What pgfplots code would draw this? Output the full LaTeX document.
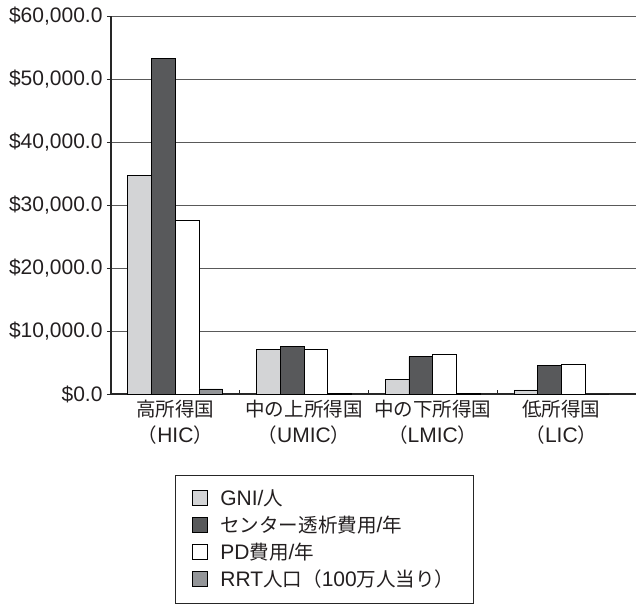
\documentclass[border=0pt]{standalone}
\usepackage{fontspec}
\setmainfont{Liberation Sans}
\newfontfamily\cjk[Scale=0.93]{Noto Sans CJK JP}
\usepackage{pgfplots}
\pgfplotsset{compat=1.18}
\definecolor{cGNI}{HTML}{D3D4D6}
\definecolor{cHD}{HTML}{58595B}
\definecolor{cRRT}{HTML}{939598}
\definecolor{txt}{HTML}{231F20}
\pgfplotsset{sq/.style={legend image code/.code={\draw[##1,line width=0.9bp] (0bp,0bp) rectangle (15bp,15bp); \path (25bp,7bp);}}}
\begin{document}
\begin{tikzpicture}
\begin{axis}[
  scale only axis, width=525bp, height=378bp,
  xmin=0.5, xmax=4.58, ymin=0, ymax=60000,
  ybar=0pt, bar width=23.7bp,
  axis lines*=left,
  axis line style={line width=1.1bp, color=black!85},
  ymajorgrids, grid style={line width=1bp, color=black!65},
  scaled y ticks=false,
  ytick={0,10000,20000,30000,40000,50000,60000},
  yticklabels={{\$0.0},{\$10,000.0},{\$20,000.0},{\$30,000.0},{\$40,000.0},{\$50,000.0},{\$60,000.0}},
  xtick={1,2,3,4},
  xticklabels={{{\cjk 高所得国}\\{\cjk （}HIC{\cjk ）}},{{\cjk 中の上所得国}\\{\cjk （}UMIC{\cjk ）}},{{\cjk 中の下所得国}\\{\cjk （}LMIC{\cjk ）}},{{\cjk 低所得国}\\{\cjk （}LIC{\cjk ）}}},
  minor xtick={1.5,2.5,3.5},
  xtick align=inside, ytick align=outside,
  major tick length=4bp, minor tick length=4bp,
  x tick style={draw=none},
  minor x tick style={draw=black!85, line width=1bp},
  y tick style={draw=black!85, line width=1bp},
  tick label style={font=\fontsize{21bp}{26bp}\selectfont, text=txt},
  x tick label style={align=center, yshift=-3bp},
  y tick label style={xshift=-1bp},
  legend style={at={(0.1219,-0.2143)}, anchor=north west, draw=black!85, line width=1bp,
    font=\fontsize{21bp}{22bp}\selectfont, text=txt,
    cells={anchor=base west}, inner xsep=17bp, inner ysep=10bp,
    nodes={text height=16bp, text depth=3.5bp, inner ysep=3.75bp}},
]
\addplot[sq, fill=cGNI, draw=black, line width=0.9bp] coordinates {(1,34650) (2,7100) (3,2380) (4,640)};
\addplot[sq, fill=cHD, draw=black, line width=0.9bp] coordinates {(1,53200) (2,7500) (3,5920) (4,4560)};
\addplot[sq, fill=white, draw=black, line width=0.9bp] coordinates {(1,27600) (2,7100) (3,6300) (4,4710)};
\addplot[sq, fill=cRRT, draw=black, line width=0.9bp] coordinates {(1,800) (2,150) (3,150) (4,0)};
\legend{GNI/{\cjk 人}, {\cjk センター透析費用}/{\cjk 年}, PD{\cjk 費用}/{\cjk 年}, RRT{\cjk 人口（}100{\cjk 万人当り）}}
\coordinate (sw) at (rel axis cs:0,0);
\end{axis}
\pgfresetboundingbox
\path (sw) ++(-111bp,-210bp) rectangle ++(636bp,604bp);
\end{tikzpicture}
\end{document}
